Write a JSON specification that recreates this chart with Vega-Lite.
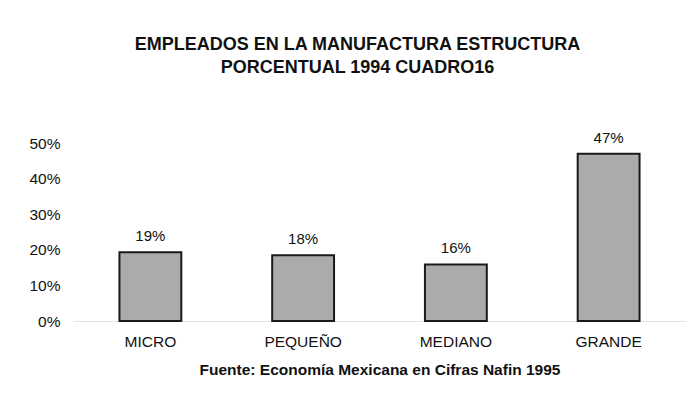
{
  "$schema": "https://vega.github.io/schema/vega-lite/v6.json",
  "autosize": {"type": "none"},
  "padding": {"left": 74, "top": 143, "right": 8, "bottom": 77},
  "width": 611,
  "height": 178,
  "background": "white",
  "config": {
    "font": "Liberation Sans",
    "view": {"stroke": null}
  },
  "title": {
    "text": ["EMPLEADOS EN LA MANUFACTURA ESTRUCTURA", "PORCENTUAL 1994 CUADRO16"],
    "font": "Liberation Sans",
    "fontSize": 18,
    "fontWeight": "bold",
    "color": "#111111",
    "lineHeight": 23,
    "anchor": "middle",
    "frame": "group",
    "dx": -22,
    "offset": 54
  },
  "data": {
    "values": [
      {"categoria": "MICRO", "valor": 19.3, "etiqueta": "19%"},
      {"categoria": "PEQUEÑO", "valor": 18.5, "etiqueta": "18%"},
      {"categoria": "MEDIANO", "valor": 15.9, "etiqueta": "16%"},
      {"categoria": "GRANDE", "valor": 47, "etiqueta": "47%"}
    ]
  },
  "encoding": {
    "x": {
      "field": "categoria",
      "type": "nominal",
      "sort": null,
      "scale": {"paddingInner": 0.595, "paddingOuter": 0.2975},
      "axis": {
        "title": "Fuente: Economía Mexicana en Cifras Nafin 1995",
        "titleFont": "Liberation Sans",
        "titleFontSize": 15.5,
        "titleFontWeight": "bold",
        "titleColor": "#111111",
        "titlePadding": 13,
        "labelAngle": 0,
        "labelFont": "Liberation Sans",
        "labelFontSize": 15.5,
        "labelColor": "#111111",
        "labelPadding": 13,
        "ticks": false,
        "tickSize": 0,
        "domain": true,
        "domainColor": "#e4e4e4",
        "domainWidth": 1
      }
    },
    "y": {
      "field": "valor",
      "type": "quantitative",
      "scale": {"domain": [0, 50], "nice": false},
      "axis": {
        "title": null,
        "values": [0, 10, 20, 30, 40, 50],
        "labelExpr": "datum.value + '%'",
        "labelFont": "Liberation Sans",
        "labelFontSize": 15.5,
        "labelColor": "#111111",
        "labelPadding": 14,
        "ticks": false,
        "tickSize": 0,
        "domain": false,
        "grid": false
      }
    }
  },
  "layer": [
    {
      "mark": {"type": "bar", "fill": "#ababab", "stroke": "#1a1a1a", "strokeWidth": 2}
    },
    {
      "mark": {"type": "text", "baseline": "alphabetic", "dy": -11, "fontSize": 15, "font": "Liberation Sans", "color": "#111111"},
      "encoding": {"text": {"field": "etiqueta"}}
    }
  ]
}
